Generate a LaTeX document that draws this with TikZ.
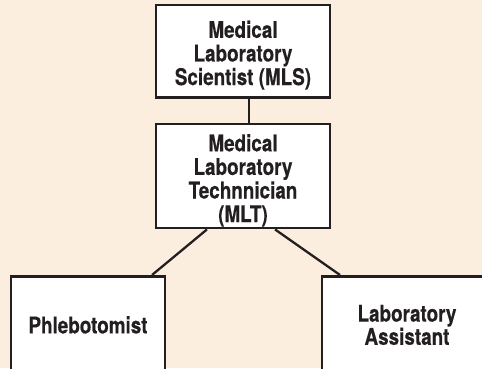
\documentclass[tikz,border=0pt]{standalone}
\usepackage{fontspec}
\setmainfont{TeX Gyre Heros}[FakeStretch=0.82, BoldFeatures={FakeBold=0.4}]
\definecolor{bg}{RGB}{251,238,222}
\definecolor{ink}{RGB}{35,31,32}
\begin{document}
\begin{tikzpicture}[x=1pt,y=-1pt,
  box/.style={draw=ink, fill=white, line width=2.8pt, inner sep=0pt, align=center,
    font=\fontsize{23}{23.6}\selectfont\bfseries, text=ink},
  link/.style={draw=ink, line width=2.3pt}]
\fill[bg] (0,0) rectangle (482,368);
\useasboundingbox (0,0) rectangle (482,368);
\node[box, minimum width=174pt, minimum height=92.5pt] (mls) at (243,51.25)
  {\rule{0pt}{25pt}Medical\\Laboratory\\Scientist (MLS)};
\node[box, minimum width=174pt, minimum height=104pt] (mlt) at (243,176)
  {\rule{0pt}{26pt}Medical\\Laboratory\\Technnician\\(MLT)};
\node[box, anchor=north, minimum width=154pt, minimum height=97pt] (phl) at (88,275)
  {Phlebotomist};
\node[box, anchor=north, minimum width=170pt, minimum height=97pt,
  font=\fontsize{23}{21.7}\selectfont\bfseries] (lab) at (407,275)
  {Laboratory\\Assistant};
\draw[link] ([xshift=6pt]mls.south) -- ([xshift=6pt]mlt.north);
\draw[link] ([xshift=-36pt]mlt.south) -- ([xshift=64pt]phl.north);
\draw[link] ([xshift=32pt]mlt.south) -- ([xshift=-67pt]lab.north);
\end{tikzpicture}
\end{document}
